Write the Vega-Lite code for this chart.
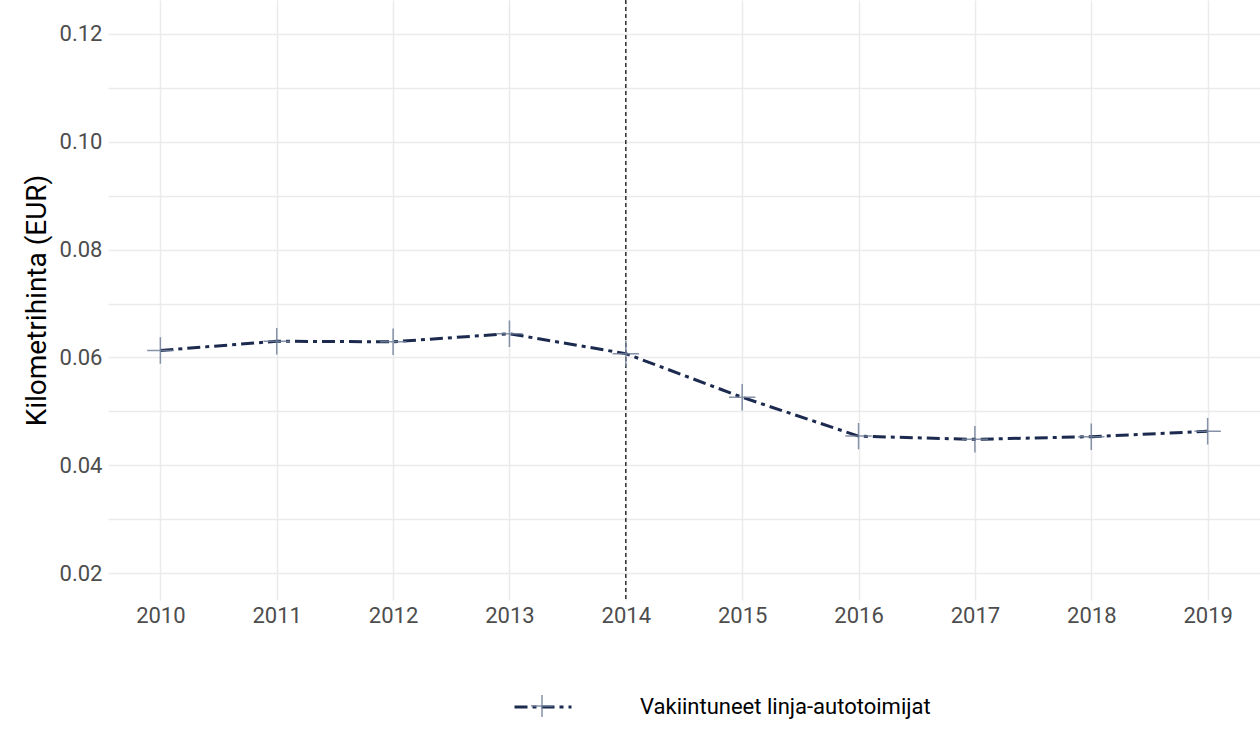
{
  "$schema": "https://vega.github.io/schema/vega-lite/v6.json",
  "width": 1152,
  "height": 600,
  "autosize": {"type": "none"},
  "padding": {"left": 108, "top": 0, "right": 0, "bottom": 144},
  "background": "white",
  "config": {
    "view": {"stroke": null},
    "font": "Roboto",
    "axis": {
      "domain": false,
      "ticks": false,
      "gridColor": "#ebebeb",
      "gridWidth": 1.5,
      "labelFont": "Roboto",
      "labelFontSize": 22,
      "labelColor": "#4d4d4d",
      "titleFont": "Roboto",
      "titleFontSize": 28,
      "titleFontWeight": "normal",
      "titleColor": "#000000"
    },
    "legend": {
      "labelFont": "Roboto",
      "labelFontSize": 22,
      "labelColor": "#000000",
      "labelLimit": 0,
      "padding": 0
    }
  },
  "datasets": {
    "main": [
      {"year": 2010, "price": 0.0613, "series": "Vakiintuneet linja-autotoimijat", "series2": "Vakiintuneet linja-autotoimijat "},
      {"year": 2011, "price": 0.0630, "series": "Vakiintuneet linja-autotoimijat", "series2": "Vakiintuneet linja-autotoimijat "},
      {"year": 2012, "price": 0.0629, "series": "Vakiintuneet linja-autotoimijat", "series2": "Vakiintuneet linja-autotoimijat "},
      {"year": 2013, "price": 0.0644, "series": "Vakiintuneet linja-autotoimijat", "series2": "Vakiintuneet linja-autotoimijat "},
      {"year": 2014, "price": 0.0607, "series": "Vakiintuneet linja-autotoimijat", "series2": "Vakiintuneet linja-autotoimijat "},
      {"year": 2015, "price": 0.0526, "series": "Vakiintuneet linja-autotoimijat", "series2": "Vakiintuneet linja-autotoimijat "},
      {"year": 2016, "price": 0.0454, "series": "Vakiintuneet linja-autotoimijat", "series2": "Vakiintuneet linja-autotoimijat "},
      {"year": 2017, "price": 0.0448, "series": "Vakiintuneet linja-autotoimijat", "series2": "Vakiintuneet linja-autotoimijat "},
      {"year": 2018, "price": 0.0453, "series": "Vakiintuneet linja-autotoimijat", "series2": "Vakiintuneet linja-autotoimijat "},
      {"year": 2019, "price": 0.0463, "series": "Vakiintuneet linja-autotoimijat", "series2": "Vakiintuneet linja-autotoimijat "}
    ],
    "marker": [{"year": 2014}]
  },
  "layer": [
    {
      "data": {"name": "marker"},
      "mark": {"type": "rule", "color": "#000000", "strokeWidth": 1.2, "strokeDash": [4, 3]},
      "encoding": {
        "x": {
          "field": "year", "type": "quantitative",
          "scale": {"domain": [2009.55, 2019.45], "nice": false, "zero": false},
          "axis": {"title": null, "values": [2010, 2011, 2012, 2013, 2014, 2015, 2016, 2017, 2018, 2019], "format": "d", "labelPadding": 5}
        }
      }
    },
    {
      "data": {"name": "main"},
      "mark": {"type": "line", "strokeWidth": 3, "strokeDash": [13, 5, 4, 5]},
      "encoding": {
        "x": {"field": "year", "type": "quantitative"},
        "y": {
          "field": "price", "type": "quantitative",
          "scale": {"domain": [0.015, 0.1263], "nice": false, "zero": false},
          "axis": {
            "title": "Kilometrihinta (EUR)",
            "values": [0.02, 0.03, 0.04, 0.05, 0.06, 0.07, 0.08, 0.09, 0.10, 0.11, 0.12],
            "labelExpr": "round(datum.value*100) % 2 == 0 ? format(datum.value, '.2f') : ''",
            "labelPadding": 6,
            "titlePadding": 8
          }
        },
        "stroke": {
          "field": "series", "type": "nominal",
          "scale": {"range": ["#1b2a4e"]},
          "legend": {
            "title": null,
            "orient": "none",
            "legendX": 405,
            "legendY": 677,
            "symbolType": "stroke",
            "symbolSize": 3249,
            "symbolStrokeWidth": 3,
            "symbolDash": [13, 5, 4, 5],
            "symbolStrokeColor": "#1b2a4e",
            "labelOffset": 67
          }
        }
      }
    },
    {
      "data": {"name": "main"},
      "mark": {"type": "point", "filled": false, "size": 700, "strokeWidth": 1.5, "color": "#71809b", "opacity": 0.85},
      "encoding": {
        "x": {"field": "year", "type": "quantitative"},
        "y": {"field": "price", "type": "quantitative"},
        "shape": {
          "field": "series2", "type": "nominal",
          "scale": {"range": ["M-1,0H1M0,-1V1"]},
          "legend": {
            "title": null,
            "orient": "none",
            "legendX": 422,
            "legendY": 694,
            "symbolSize": 484,
            "symbolStrokeWidth": 1.5,
            "symbolStrokeColor": "#71809b",
            "symbolFillColor": "transparent",
            "labelExpr": "''"
          }
        }
      }
    }
  ]
}
